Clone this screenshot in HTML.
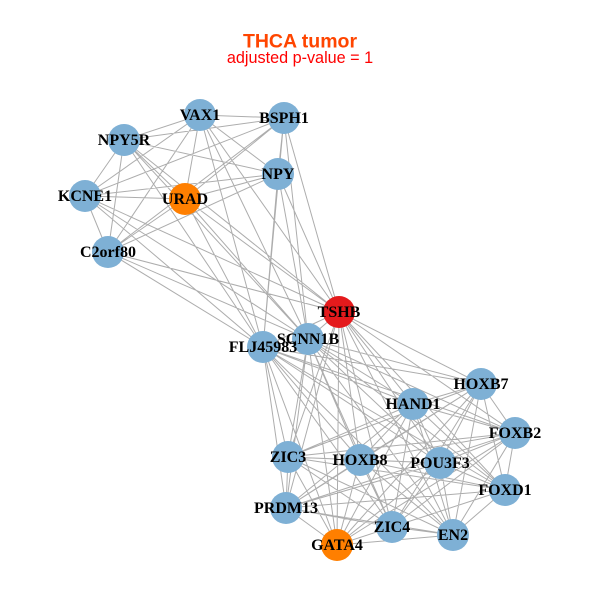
<!DOCTYPE html>
<html><head><meta charset="utf-8"><style>
html,body{margin:0;padding:0;background:#fff;}
svg{display:block;}
.l{font-family:"Liberation Serif",serif;font-weight:bold;font-size:16px;fill:#000;text-anchor:middle;}
</style></head><body>
<svg width="600" height="600" viewBox="0 0 600 600" xmlns="http://www.w3.org/2000/svg">
<rect width="600" height="600" fill="#fff"/>
<text x="300" y="47.5" text-anchor="middle" font-family="Liberation Sans, sans-serif" font-weight="bold" font-size="19.5" fill="#FF4500">THCA tumor</text>
<text x="300" y="63" text-anchor="middle" font-family="Liberation Sans, sans-serif" font-size="16.2" fill="#FF0000">adjusted p-value = 1</text>
<path fill="none" stroke="#ADADAD" stroke-width="1" d="
M200 115L284 118M200 115L124 140M200 115L278 174M200 115L185 199M200 115L85 196M200 115L108 252
M284 118L124 140M284 118L278 174M284 118L185 199M284 118L85 196M284 118L108 252
M124 140L278 174M124 140L185 199M124 140L85 196M124 140L108 252
M278 174L185 199M278 174L85 196M278 174L108 252
M185 199L85 196M185 199L108 252M85 196L108 252
M200 115L339 312M200 115L308 339M200 115L263 347
M284 118L339 312M284 118L308 339M284 118L263 347
M124 140L339 312M124 140L308 339M124 140L263 347
M278 174L339 312M278 174L308 339M278 174L263 347
M185 199L339 312M185 199L308 339M185 199L263 347
M85 196L339 312M85 196L308 339M85 196L263 347
M108 252L339 312M108 252L308 339M108 252L263 347
M339 312L308 339M339 312L263 347M308 339L263 347
M339 312L481 384M339 312L413 404M339 312L515 433M339 312L288 457M339 312L360 460M339 312L440 463M339 312L505 490M339 312L286 508M339 312L392 527M339 312L453 535M339 312L337 545
M308 339L481 384M308 339L413 404M308 339L515 433M308 339L288 457M308 339L360 460M308 339L440 463M308 339L505 490M308 339L286 508M308 339L392 527M308 339L453 535M308 339L337 545
M263 347L481 384M263 347L413 404M263 347L515 433M263 347L288 457M263 347L360 460M263 347L440 463M263 347L505 490M263 347L286 508M263 347L392 527M263 347L453 535M263 347L337 545
M481 384L413 404M481 384L515 433M481 384L288 457M481 384L360 460M481 384L440 463M481 384L505 490M481 384L286 508M481 384L392 527M481 384L453 535M481 384L337 545
M413 404L515 433M413 404L288 457M413 404L360 460M413 404L440 463M413 404L505 490M413 404L286 508M413 404L392 527M413 404L453 535M413 404L337 545
M515 433L288 457M515 433L360 460M515 433L440 463M515 433L505 490M515 433L286 508M515 433L392 527M515 433L453 535M515 433L337 545
M288 457L360 460M288 457L440 463M288 457L505 490M288 457L286 508M288 457L392 527M288 457L453 535M288 457L337 545
M360 460L440 463M360 460L505 490M360 460L286 508M360 460L392 527M360 460L453 535M360 460L337 545
M440 463L505 490M440 463L286 508M440 463L392 527M440 463L453 535M440 463L337 545
M505 490L286 508M505 490L392 527M505 490L453 535M505 490L337 545
M286 508L392 527M286 508L453 535M286 508L337 545
M392 527L453 535M392 527L337 545M453 535L337 545"/>
<g fill="#7EB0D5">
<circle cx="200" cy="115" r="16"/>
<circle cx="284" cy="118" r="16"/>
<circle cx="124" cy="140" r="16"/>
<circle cx="278" cy="174" r="16"/>
<circle cx="85" cy="196" r="16"/>
<circle cx="108" cy="252" r="16"/>
<circle cx="308" cy="339" r="16"/>
<circle cx="263" cy="347" r="16"/>
<circle cx="481" cy="384" r="16"/>
<circle cx="413" cy="404" r="16"/>
<circle cx="515" cy="433" r="16"/>
<circle cx="288" cy="457" r="16"/>
<circle cx="360" cy="460" r="16"/>
<circle cx="440" cy="463" r="16"/>
<circle cx="505" cy="490" r="16"/>
<circle cx="286" cy="508" r="16"/>
<circle cx="392" cy="527" r="16"/>
<circle cx="453" cy="535" r="16"/>
</g>
<circle cx="185" cy="199" r="16" fill="#FF7F00"/>
<circle cx="337" cy="545" r="16" fill="#FF7F00"/>
<circle cx="339" cy="312" r="16" fill="#E41A1C"/>
<g class="l">
<text class="l" x="200" y="120">VAX1</text>
<text class="l" x="284" y="123">BSPH1</text>
<text class="l" x="124" y="145">NPY5R</text>
<text class="l" x="278" y="179">NPY</text>
<text class="l" x="185" y="204">URAD</text>
<text class="l" x="85" y="201">KCNE1</text>
<text class="l" x="108" y="257">C2orf80</text>
<text class="l" x="339" y="317">TSHB</text>
<text class="l" x="308" y="344">SCNN1B</text>
<text class="l" x="263" y="352">FLJ45983</text>
<text class="l" x="481" y="389">HOXB7</text>
<text class="l" x="413" y="409">HAND1</text>
<text class="l" x="515" y="438">FOXB2</text>
<text class="l" x="288" y="462">ZIC3</text>
<text class="l" x="360" y="465">HOXB8</text>
<text class="l" x="440" y="468">POU3F3</text>
<text class="l" x="505" y="495">FOXD1</text>
<text class="l" x="286" y="513">PRDM13</text>
<text class="l" x="392" y="532">ZIC4</text>
<text class="l" x="453" y="540">EN2</text>
<text class="l" x="337" y="550">GATA4</text>
</g>
</svg>
</body></html>
